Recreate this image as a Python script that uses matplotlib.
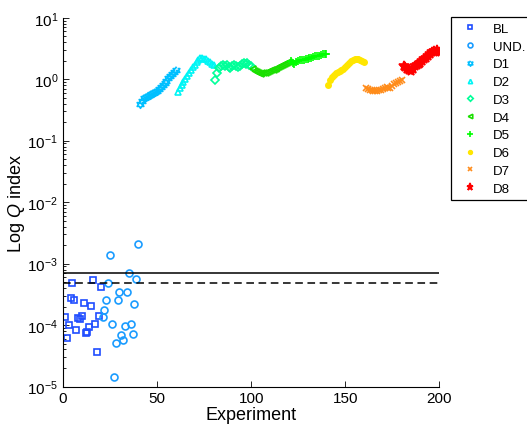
import numpy as np
import matplotlib
matplotlib.use("Agg")
import matplotlib.pyplot as plt

plt.rcParams['font.family'] = ['Liberation Sans', 'DejaVu Sans']
plt.rcParams['mathtext.fontset'] = 'custom'
plt.rcParams['mathtext.rm'] = 'Liberation Sans'
plt.rcParams['mathtext.it'] = 'Liberation Sans:italic'
plt.rcParams['mathtext.default'] = 'regular'

# ---- data (log10 of Q index) ----
bl_x = list(range(1, 21))
bl_log = [-3.872, -4.216, -4.002, -3.558, -3.309, -3.585, -4.078, -3.888, -3.899, -3.860,
          -3.639, -4.127, -4.115, -4.024, -3.693, -3.273, -3.980, -4.444, -3.859, -3.379]

und_x = list(range(21, 41))
und_log = [-3.872, -3.753, -3.590, -3.314, -2.859, -3.985, -4.842, -4.289, -3.590, -3.455,
           -4.159, -4.246, -4.013, -3.460, -3.156, -3.980, -4.143, -3.655, -3.244, -2.675]

d1_log = [-0.403, -0.354, -0.306, -0.289, -0.281, -0.265, -0.249, -0.224, -0.208, -0.192,
          -0.167, -0.135, -0.094, -0.062, -0.029, 0.011, 0.052, 0.085, 0.117, 0.141]
d2_log = [-0.208, -0.151, -0.094, -0.046, 0.003, 0.052, 0.101, 0.150, 0.190, 0.231,
          0.272, 0.312, 0.337, 0.345, 0.328, 0.320, 0.296, 0.280, 0.247, 0.231]
d3_log = [-0.013, 0.101, 0.182, 0.215, 0.231, 0.207, 0.231, 0.198, 0.182, 0.215,
          0.231, 0.215, 0.198, 0.215, 0.239, 0.263, 0.247, 0.255, 0.231, 0.215]
d4_log = [0.166, 0.133, 0.117, 0.101, 0.085, 0.093, 0.101, 0.101, 0.117, 0.125,
          0.150, 0.150, 0.166, 0.182, 0.198, 0.207, 0.231, 0.247, 0.263, 0.272]
d5_log = [0.296, 0.263, 0.247, 0.280, 0.296, 0.304, 0.312, 0.312, 0.328, 0.328,
          0.337, 0.345, 0.353, 0.369, 0.377, 0.385, 0.393, 0.402, 0.410, 0.402]
d6_log = [-0.102, -0.013, 0.036, 0.068, 0.093, 0.117, 0.133, 0.150, 0.166, 0.198,
          0.231, 0.263, 0.288, 0.304, 0.320, 0.328, 0.328, 0.312, 0.296, 0.280]
d7_log = [-0.143, -0.159, -0.176, -0.184, -0.192, -0.200, -0.192, -0.184, -0.176, -0.159,
          -0.143, -0.135, -0.143, -0.151, -0.111, -0.086, -0.062, -0.046, -0.029, -0.021]
d8_log = [0.215, 0.198, 0.166, 0.150, 0.133, 0.166, 0.215, 0.231, 0.247, 0.263,
          0.296, 0.328, 0.345, 0.377, 0.410, 0.442, 0.459, 0.450, 0.467, 0.450]

solid_threshold = 7.0e-4
dashed_threshold = 4.8e-4

labels = ['BL', 'UND.', 'D1', 'D2', 'D3', 'D4', 'D5', 'D6', 'D7', 'D8']
colors = ['#1f4dff', '#1a9cff', '#00bfff', '#00f5f5', '#00ff99', '#1adf00',
          '#00ff00', '#ffe600', '#ff8c1a', '#ff0000']

# hexagram marker
ang = np.deg2rad(90 + np.arange(12) * 30)
rad = np.where(np.arange(12) % 2 == 0, 1.0, 1.0 / np.sqrt(3))
hexagram = list(zip(rad * np.cos(ang), rad * np.sin(ang)))

series = [
    (bl_x, bl_log, 's', True, 4.2),
    (und_x, und_log, 'o', True, 5.0),
    (list(range(41, 61)), d1_log, hexagram, True, 5.5),
    (list(range(61, 81)), d2_log, '^', True, 4.4),
    (list(range(81, 101)), d3_log, 'D', True, 4.0),
    (list(range(101, 121)), d4_log, '<', True, 4.6),
    (list(range(121, 141)), d5_log, '+', False, 5.5),
    (list(range(141, 161)), d6_log, 'o', False, 3.8),
    (list(range(161, 181)), d7_log, 'x', False, 4.0),
    (list(range(181, 201)), d8_log, '*', False, 7.5),
]

fig = plt.figure(figsize=(5.27, 4.27), dpi=100)
ax = fig.add_axes([63 / 527, 1 - 387.5 / 427, (439.3 - 63) / 527, (387.5 - 18.7) / 427])

for (xs, logs, mk, hollow, ms), lab, col in zip(series, labels, colors):
    ys = 10.0 ** np.array(logs)
    if hollow:
        ax.plot(xs, ys, linestyle='none', marker=mk, markersize=ms,
                markerfacecolor='none', markeredgecolor=col, markeredgewidth=1.2,
                label=lab)
    else:
        ax.plot(xs, ys, linestyle='none', marker=mk, markersize=ms,
                color=col, markeredgewidth=1.2, label=lab)

ax.axhline(solid_threshold, color='black', linewidth=1.1)
ax.axhline(dashed_threshold, color='black', linewidth=1.1, linestyle=(0, (5, 3)))

ax.set_yscale('log')
ax.set_xlim(0, 200)
ax.set_ylim(1e-5, 1e1)
ax.set_xticks([0, 50, 100, 150, 200])
ax.set_yticks([1e-5, 1e-4, 1e-3, 1e-2, 1e-1, 1e0, 1e1])
ax.spines['top'].set_visible(False)
ax.spines['right'].set_visible(False)
for s in ['left', 'bottom']:
    ax.spines[s].set_linewidth(0.8)
ax.tick_params(which='both', direction='in', labelsize=11, width=0.6)
ax.tick_params(which='major', length=4)
ax.tick_params(which='minor', length=2)
ax.tick_params(axis='x', pad=3)
ax.set_xlabel('Experiment', fontsize=13, labelpad=1)
ax.set_ylabel('Log $\\mathit{Q}$ index', fontsize=13, labelpad=0)

leg = ax.legend(loc='upper left', bbox_to_anchor=(450.7 / 527, 1 - 18.3 / 427),
                bbox_transform=fig.transFigure, fontsize=9.5, frameon=True,
                fancybox=False, framealpha=1, edgecolor='black',
                borderpad=0.4, labelspacing=0.42, handlelength=2.2,
                handletextpad=0.6, borderaxespad=0, markerscale=0.7)
leg.get_frame().set_linewidth(0.9)

fig.savefig('out.png', dpi=100)
